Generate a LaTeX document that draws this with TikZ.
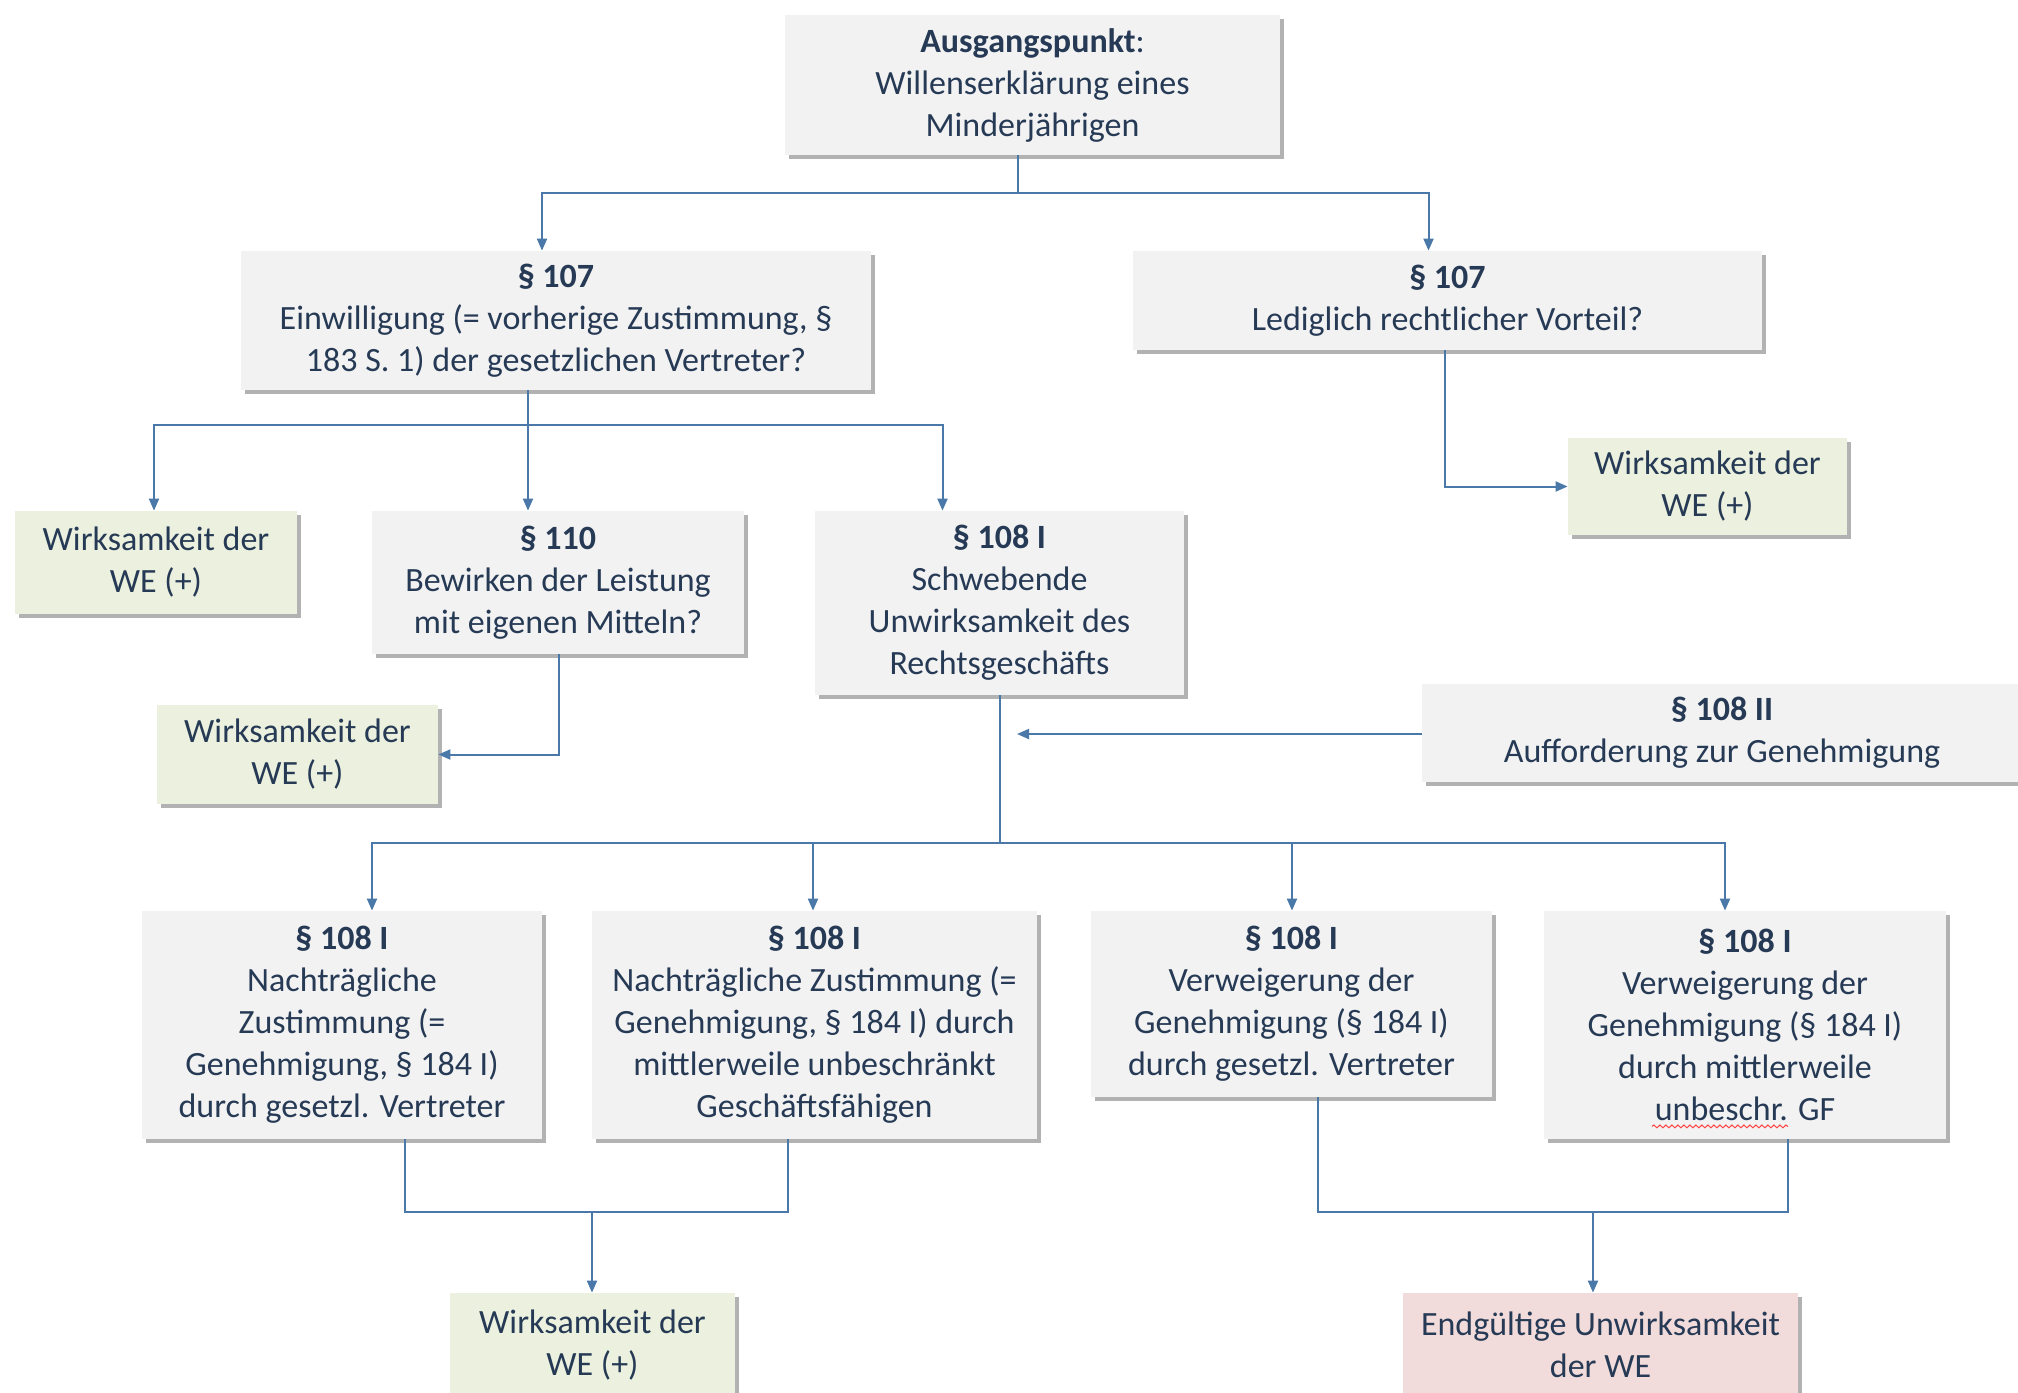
\documentclass[tikz,border=0pt]{standalone}
\usepackage{fontspec}
\setmainfont{Carlito}
\usetikzlibrary{shadows,calc,arrows.meta,decorations.pathmorphing}
\definecolor{txt}{HTML}{263A55}
\definecolor{boxgray}{HTML}{F2F2F2}
\definecolor{boxgreen}{HTML}{EBF1DE}
\definecolor{boxred}{HTML}{F2DCDB}
\definecolor{conn}{HTML}{4A78A8}
\begin{document}
\begin{tikzpicture}[x=0.5pt,y=-0.5pt,
  box/.style={rectangle, fill=boxgray, draw=none, align=center, text=txt,
    font=\fontsize{17}{21}\selectfont, inner sep=0pt,
    drop shadow={shadow xshift=2pt, shadow yshift=-2pt, fill=black, opacity=0.3}},
  gbox/.style={box, fill=boxgreen},
  rbox/.style={box, fill=boxred},
  line/.style={draw=conn, line width=1pt},
  arr/.style={line, -{Triangle[length=6pt,width=5pt]}},
  wavy/.style={draw=red!75, line width=0.5pt, decorate, decoration={snake, amplitude=0.7pt, segment length=3pt}}]
\useasboundingbox (0,0) rectangle (2018,1392);
\fill[white] (0,0) rectangle (2018,1392);

\node[box, minimum width=247.5pt, minimum height=70pt] (top) at (1032.5,85)
  {\textbf{Ausgangspunkt}:\\Willenserklärung eines\\Minderjährigen};
\node[box, minimum width=315pt, minimum height=69.5pt] (b107L) at (556,320.5)
  {\textbf{§ 107}\\Einwilligung (= vorherige Zustimmung, §\\183 S. 1) der gesetzlichen Vertreter?};
\node[box, minimum width=314.5pt, minimum height=49.5pt] (b107R) at (1447.5,300.5)
  {\textbf{§ 107}\\Lediglich rechtlicher Vorteil?};
\node[gbox, minimum width=141pt, minimum height=51.5pt] (gL) at (156,562.5)
  {Wirksamkeit der\\WE (+)};
\node[box, minimum width=186pt, minimum height=71.5pt] (b110) at (558,582.5)
  {\textbf{§ 110}\\Bewirken der Leistung\\mit eigenen Mitteln?};
\node[box, minimum width=184.5pt, minimum height=92pt] (b108) at (999.5,603)
  {\textbf{§ 108 I}\\Schwebende\\Unwirksamkeit des\\Rechtsgeschäfts};
\node[gbox, minimum width=139.5pt, minimum height=48.5pt] (gR) at (1707.5,486.5)
  {Wirksamkeit der\\WE (+)};
\node[gbox, minimum width=140.5pt, minimum height=49.5pt] (g110) at (297.5,754.5)
  {Wirksamkeit der\\WE (+)};
\node[box, minimum width=300pt, minimum height=49pt] (b108II) at (1722,733)
  {\textbf{§ 108 II}\\Aufforderung zur Genehmigung};
\node[box, minimum width=200pt, minimum height=114pt] (A) at (342,1025)
  {\textbf{§ 108 I}\\Nachträgliche\\Zustimmung (=\\Genehmigung, § 184 I)\\durch gesetzl. Vertreter};
\node[box, minimum width=222.5pt, minimum height=114pt] (B) at (814.5,1025)
  {\textbf{§ 108 I}\\Nachträgliche Zustimmung (=\\Genehmigung, § 184 I) durch\\mittlerweile unbeschränkt\\Geschäftsfähigen};
\node[box, minimum width=200.5pt, minimum height=93pt] (C) at (1291.5,1004)
  {\textbf{§ 108 I}\\Verweigerung der\\Genehmigung (§ 184 I)\\durch gesetzl. Vertreter};
\node[box, minimum width=201pt, minimum height=114pt] (D) at (1745,1025)
  {\textbf{§ 108 I}\\Verweigerung der\\Genehmigung (§ 184 I)\\durch mittlerweile\\unbeschr. GF};
\node[gbox, minimum width=142.5pt, minimum height=52pt] (gB) at (592.5,1345)
  {Wirksamkeit der\\WE (+)};
\node[rbox, minimum width=197.5pt, minimum height=52pt] (red) at (1600.5,1345)
  {Endgültige Unwirksamkeit\\der WE};

% spell-check underline
\coordinate (w1) at ($(D.south)+(-93,-13)$);
\coordinate (w2) at ($(D.south)+(43,-13)$);
\draw[wavy] (w1) -- (w2);

% junction coordinates
\coordinate (j0) at (1018,193);
\coordinate (j1) at (528,425);
\coordinate (j2) at (1000,843);
\coordinate (jAB) at (592,1212);
\coordinate (jCD) at (1593,1212);
\coordinate (t2) at (1017,734);

% top split
\draw[line] (top.south -| j0) -- (j0);
\draw[arr] (j0) -| ($(b107L.north)+(-14,0)$);
\draw[arr] (j0) -| ($(b107R.north)+(-19,0)$);

% left split
\draw[line] (b107L.south -| j1) -- (j1);
\draw[arr] (j1) -| (gL.north -| 154,0);
\draw[arr] (j1) -- (b110.north -| j1);
\draw[arr] (j1) -| ($(b108.north)+(-57,0)$);

% right
\draw[arr] ($(b107R.south)+(-3,0)$) |- (gR.west);
% 110
\draw[arr] ($(b110.south)+(1,0)$) |- (g110.east);
% 108 II
\draw[arr] (b108II.west |- t2) -- (t2);

% 108 I split
\draw[line] (b108.south -| j2) -- (j2);
\draw[arr] (j2) -| ($(A.north)+(30,0)$);
\draw[arr] (j2) -| ($(B.north)+(-1.5,0)$);
\draw[arr] (j2) -| ($(C.north)+(0.5,0)$);
\draw[arr] (j2) -| ($(D.north)+(-20,0)$);

% merges
\coordinate (bB) at ($(B.south)+(-26.5,0)$);
\coordinate (bD) at ($(D.south)+(43,0)$);
\draw[line] ($(A.south)+(63,0)$) |- (bB |- jAB) -- (bB);
\draw[arr] (jAB) -- (gB.north -| jAB);
\draw[line] ($(C.south)+(26.5,0)$) |- (bD |- jCD) -- (bD);
\draw[arr] (jCD) -- (red.north -| jCD);
\end{tikzpicture}
\end{document}
